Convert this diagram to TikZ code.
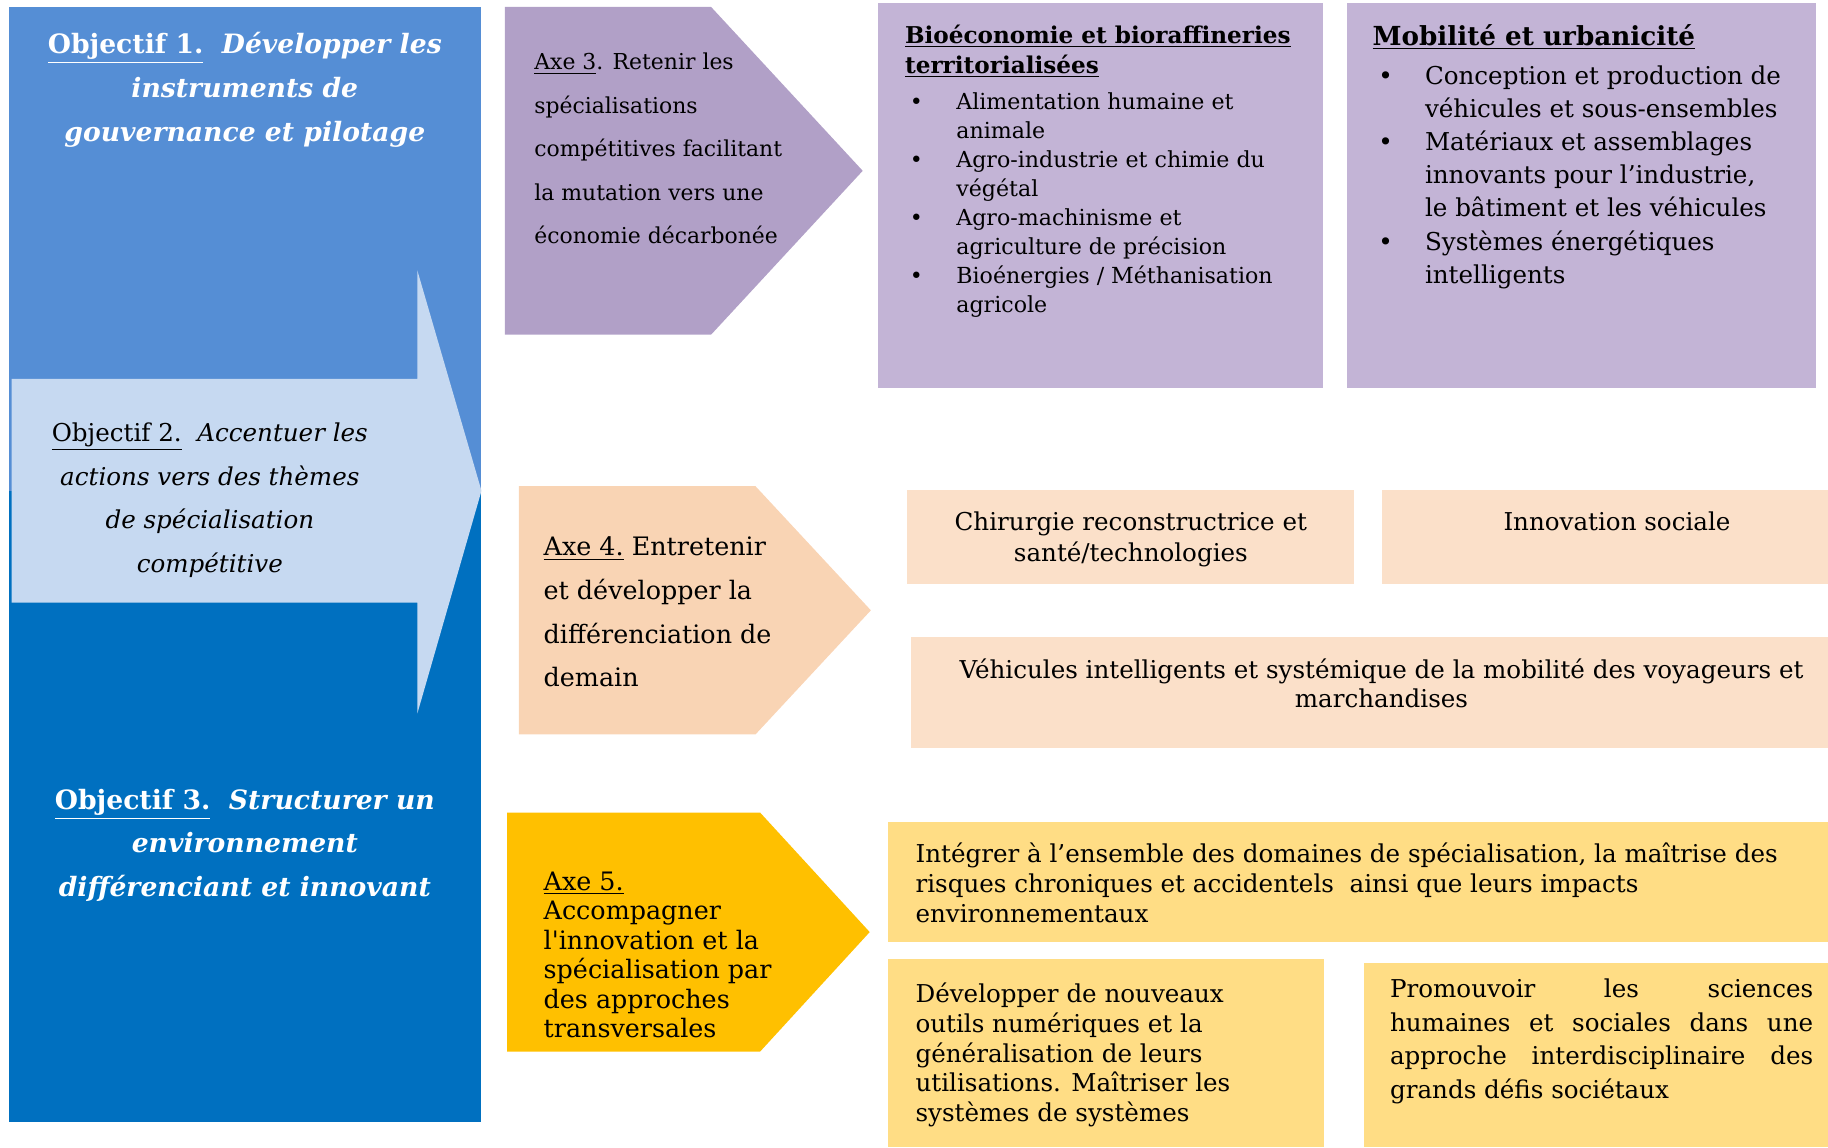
\documentclass[tikz,border=0pt]{standalone}
\usepackage{fontspec}
\setmainfont{DejaVu Serif}
\usepackage{tikz}
\usetikzlibrary{calc}
\definecolor{objA}{HTML}{558ED5}
\definecolor{objB}{HTML}{C6D9F1}
\definecolor{objC}{HTML}{0070C0}
\definecolor{axeC}{HTML}{B1A0C7}
\definecolor{boxC}{HTML}{C3B4D6}
\definecolor{axeO}{HTML}{F9D4B4}
\definecolor{boxO}{HTML}{FBE0C9}
\definecolor{axeG}{HTML}{FFC000}
\definecolor{boxG}{HTML}{FFDD85}
\def\chevron[#1](#2:#3:#4)(#5:#6){\fill[#1] (#2,#5) -- (#3,#5) -- (#4,{(#5+#6)/2}) -- (#3,#6) -- (#2,#6) -- cycle;}
\def\bul{\hspace*{0.08cm}\makebox[0.8cm][l]{•}}
\def\ind{\hspace*{0.88cm}}

\begin{document}
\begin{tikzpicture}[x=0.02cm, y=-0.02cm,
	objtxt/.style={align=center, inner sep=0pt, anchor=base, font=\fontsize{12}{21.3}\selectfont},
	objbold/.style={objtxt, text=white, font=\fontsize{13}{21.3}\selectfont\bfseries},
	axetxt/.style={align=left, inner sep=0pt, anchor=base west, font=\fontsize{12.4}{21.3}\selectfont},
	boxtxt/.style={align=left, inner sep=0pt, anchor=base west, font=\fontsize{12}{14.5}\selectfont}]
		%%%%% START %%%%%
		
		\useasboundingbox (0,0) rectangle (1568,984);
		
		\fill[objA] (8,6) rectangle (413,421);
		\fill[objC] (8,421) rectangle (413,962);
		\fill[objB] (10,325) -- (358,325) -- (358,232) -- (413,421) -- (358,612) -- (358,517) -- (10,517) -- cycle;
		
		\node[objbold] (obj1) at (210,121) {\underline{Objectif 1.}~~\textit{Développer les}\\\textit{instruments de}\\\textit{gouvernance et pilotage}};
		\node[objtxt] (obj2) at (180,491) {\underline{Objectif 2.}~~\textit{Accentuer les}\\\textit{actions vers des thèmes}\\\textit{de spécialisation}\\\textit{compétitive}};
		\node[objbold] (obj3) at (210,769) {\underline{Objectif 3.}~~\textit{Structurer un}\\\textit{environnement}\\\textit{différenciant et innovant}};
		
		\chevron[axeC](433:610:740)(6:287)
		\chevron[axeO](445:648:747)(417:630)
		\chevron[axeG](435:652:746)(697:902)
		
		\node[axetxt, font=\fontsize{10.7}{21.2}\selectfont] (axe3) at (458,209) {\underline{Axe 3}. Retenir les\\spécialisations\\compétitives facilitant\\la mutation vers une\\économie décarbonée};
		\node[axetxt] (axe4) at (466,589) {\underline{Axe 4.} Entretenir\\et développer la\\différenciation de\\demain};
		\node[axetxt, font=\fontsize{12.4}{14.4}\selectfont] (axe5) at (466,890) {\underline{Axe 5.}\\Accompagner\\l\textquotesingle innovation et la\\spécialisation par\\des approches\\transversales};
		
		\fill[boxC] (753,3) rectangle (1135,333);
		\fill[boxC] (1155,3) rectangle (1558,333);
		\node[boxtxt, font=\fontsize{10.8}{14.15}\selectfont] (bioeco) at (776,268) {\textbf{\fontsize{11.3}{14.15}\selectfont\underline{Bioéconomie et bioraffineries}}\\[0.6pt]\textbf{\fontsize{11.3}{14.15}\selectfont\underline{territorialisées}}\\[3.5pt]\bul Alimentation humaine et\\\ind animale\\\bul Agro-industrie et chimie du\\\ind végétal\\\bul Agro-machinisme et\\\ind agriculture de précision\\\bul Bioénergies / Méthanisation\\\ind agricole};
		\node[boxtxt, font=\fontsize{12.8}{16.2}\selectfont\bfseries] (mobtitle) at (1177,39) {\underline{Mobilité et urbanicité}};
		\node[boxtxt, font=\fontsize{12}{16.2}\selectfont] (mobil) at (1178,243) {\bul Conception et production de\\\ind véhicules et sous-ensembles\\\bul Matériaux et assemblages\\\ind innovants pour l’industrie,\\\ind le bâtiment et les véhicules\\\bul Systèmes énergétiques\\\ind intelligents};
		
		\fill[boxO] (778,420) rectangle (1161,501);
		\fill[boxO] (1185,420) rectangle (1568,501);
		\fill[boxO] (781,546) rectangle (1568,642);
		\node[boxtxt, align=center, anchor=base, font=\fontsize{12}{15.4}\selectfont] (chirurgie) at (970,482) {Chirurgie reconstructrice et\\santé/technologies};
		\node[boxtxt, align=center, anchor=base] (innov) at (1387,455) {Innovation sociale};
		\node[boxtxt, align=center, anchor=base, font=\fontsize{12}{14.2}\selectfont] (vehic) at (1185,607) {Véhicules intelligents et systémique de la mobilité des voyageurs et\\marchandises};
		
		\fill[boxG] (762,705) rectangle (1568,808);
		\fill[boxG] (762,823) rectangle (1136,984);
		\fill[boxG] (1170,826) rectangle (1568,984);
		\node[boxtxt] (integrer) at (785,791) {Intégrer à l’ensemble des domaines de spécialisation, la maîtrise des\\risques chroniques et accidentels\ \ ainsi que leurs impacts\\environnementaux};
		\node[boxtxt] (outils) at (785,962) {Développer de nouveaux\\outils numériques et la\\généralisation de leurs\\utilisations. Maîtriser les\\systèmes de systèmes};
		\node[boxtxt, align=justify, text width=7.26cm, font=\fontsize{12}{16.3}\selectfont] (shs) at (1192,856) {Promouvoir les sciences\linebreak humaines et sociales dans une\linebreak approche interdisciplinaire des\linebreak grands défis sociétaux};
		
		%%%%% END %%%%%
\end{tikzpicture}
\end{document}
